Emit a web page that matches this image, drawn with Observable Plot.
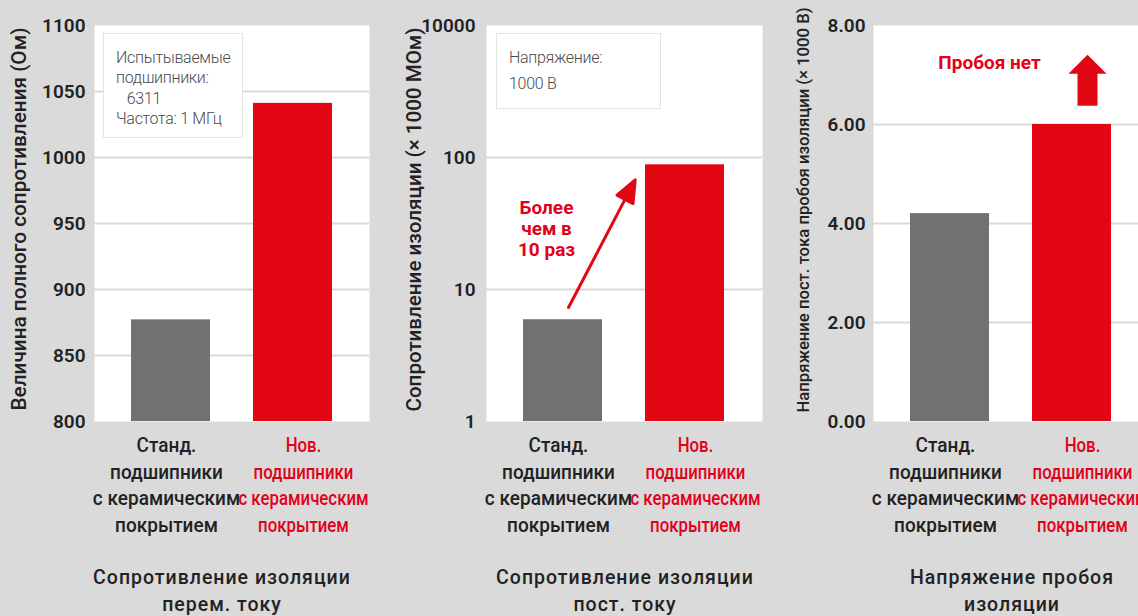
<!DOCTYPE html>
<html><head><meta charset="utf-8">
<script src="https://cdn.jsdelivr.net/npm/d3@7"></script>
<script src="https://cdn.jsdelivr.net/npm/@observablehq/plot@0.6"></script>
<style>
html,body{margin:0;padding:0;background:#dadada;}
#wrap{position:relative;width:1138px;height:616px;overflow:hidden;background:#dadada;font-family:Roboto,sans-serif;}
.panel{position:absolute;top:0;}
.note{position:absolute;background:#fff;border:1.5px solid #e3e3e3;box-sizing:border-box;color:#4a4a4a;font-weight:300;font-size:16px;letter-spacing:-0.3px;white-space:pre;}
.title{position:absolute;width:360px;text-align:center;font-size:19.5px;font-weight:500;letter-spacing:1px;line-height:27px;color:#222;white-space:pre;}
</style></head>
<body><div id="wrap"></div>
<script>
// ---- data ----
const categoryKeys = ["std", "new"];
const categoryLabels = [
  "Станд.\nподшипники\nс керамическим\nпокрытием",
  "Нов.\nподшипники\nс керамическим\nпокрытием"
];
const barColors = ["#717171", "#e30613"];
const labelColors = ["#222222", "#e2001a"];

const acImpedance = [877, 1041];       // Ом
const dcResistance = [5.9, 88];        // ×1000 МОм
const breakdownVoltage = [4.2, 6.0];   // ×1000 В

const acTicks = [800, 850, 900, 950, 1000, 1050, 1100];
const dcTicks = [1, 10, 100, 1000];
const dcTickLabels = ["1", "10", "100", "10000"];   // as printed on the original axis
const bvTicks = [0, 2, 4, 6, 8];

const yLabels = [
  "Величина полного сопротивления (Ом)",
  "Сопротивление изоляции (× 1000 МОм)",
  "Напряжение пост. тока пробоя изоляции (× 1000 В)"
];
const panelTitles = [
  "Сопротивление изоляции\nперем. току",
  "Сопротивление изоляции\nпост. току",
  "Напряжение пробоя\nизоляции"
];
const noteTexts = [
  "Испытываемые\nподшипники:\n   6311\nЧастота: 1 МГц",
  "Напряжение:\n1000 В"
];
// annotations (data coordinates)
const dcArrow = [{key: "std", value: 7.3}];
const dcNote = [{key: "std", value: 29, text: "Более\nчем в\n10 раз"}];
const bvArrow = [{key: "new", value: 6.38}];
const bvNote = [{key: "new", value: 7.25, text: "Пробоя нет"}];

const RED = "#e30613", RED_TEXT = "#e2001a";

function panel(o) {
  const data = categoryKeys.map((k, i) => ({key: k, label: categoryLabels[i], value: o.values[i], bar: barColors[i], ink: labelColors[i]}));
  const [d0, d1] = o.domain;
  const svg = Plot.plot({
    width: o.width, height: 616,
    marginTop: 25, marginBottom: 195, marginLeft: o.marginLeft, marginRight: 0,
    style: {background: "transparent", fontFamily: "Roboto, sans-serif", color: "#222", overflow: "visible"},
    x: {domain: categoryKeys, paddingInner: 0.352, paddingOuter: 0.303, axis: null},
    y: {type: o.type, domain: o.domain, axis: null},
    color: {type: "identity"},
    marks: [
      Plot.frame({fill: "white", stroke: "none"}),
      Plot.ruleY(o.ticks.filter(t => t > d0 && t < d1), {stroke: "#d9d9d9", strokeWidth: 2}),
      Plot.barY(data, {x: "key", y1: d0, y2: "value", fill: "bar"}),
      Plot.axisY({ticks: o.ticks, tickSize: 0, tickPadding: o.tickPadding, tickFormat: o.tickFormat, label: null, fontSize: 19, fontWeight: 600, fill: "#222"}),
      Plot.text(data, {x: "key", text: "label", frameAnchor: "bottom", dy: 62, lineAnchor: "middle", lineHeight: 1.335, fontSize: 20, fontWeight: 500, fontFamily: "Roboto Cond, Roboto, sans-serif", fill: "ink"}),
      Plot.text([o.yLabel], {frameAnchor: "left", rotate: -90, dx: o.yLabelDx, dy: o.yLabelDy, textAnchor: "middle", fontSize: o.yLabelSize, fontWeight: 500, fontFamily: "Roboto YL, Roboto, sans-serif", fill: "#222"}),
      ...(o.extra || [])
    ]
  });
  // narrow the category labels (no condensed face installed) and nudge them as in the original
  const scales = [0.95, 0.84], offsets = [-4.5, 10.5];
  d3.select(svg).selectAll('g[font-family^="Roboto Cond"] text').each(function(d, i) {
    const x = +this.getAttribute("x") || 0;
    const t = this.getAttribute("transform") || "";
    this.setAttribute("transform", `${t} translate(${x + offsets[i]},0) scale(${scales[i]},1) translate(${-x},0)`);
  });
  d3.select(svg).selectAll('g[font-family^="Roboto YL"] text')
    .attr("textLength", o.yLabelLength).attr("lengthAdjust", "spacingAndGlyphs");
  return svg;
}

const thinArrow = {
  draw(ctx, l) {
    const hl = 22, hw = 9;
    ctx.moveTo(0, 0); ctx.lineTo(0, -l + hl);
    ctx.moveTo(-hw, -l + hl); ctx.lineTo(0, -l); ctx.lineTo(hw, -l + hl); ctx.closePath();
  }
};
const blockArrow = {
  draw(ctx, l) {
    const hh = 19, sw = 10, hw = 19;
    ctx.moveTo(-sw, 0); ctx.lineTo(-sw, -l + hh); ctx.lineTo(-hw, -l + hh); ctx.lineTo(0, -l);
    ctx.lineTo(hw, -l + hh); ctx.lineTo(sw, -l + hh); ctx.lineTo(sw, 0); ctx.closePath();
  }
};

const wrap = document.getElementById("wrap");
function place(svg, left) { svg.classList.add("panel"); svg.style.left = left + "px"; wrap.appendChild(svg); }

place(panel({
  width: 369, marginLeft: 94, type: "linear", domain: [800, 1100], ticks: acTicks, values: acImpedance,
  tickPadding: 9, tickFormat: d => String(d),
  yLabel: yLabels[0], yLabelDx: -75, yLabelDy: -4.5, yLabelSize: 20, yLabelLength: 383
}), 0);

place(panel({
  width: 393, marginLeft: 117, type: "log", domain: [1, 1000], ticks: dcTicks, values: dcResistance,
  tickPadding: 11, tickFormat: d => dcTickLabels[dcTicks.indexOf(d)],
  yLabel: yLabels[1], yLabelDx: -72, yLabelDy: -4, yLabelSize: 20, yLabelLength: 384,
  extra: [
    Plot.vector(dcArrow, {x: "key", y: "value", length: 144, rotate: 27.6, anchor: "start", dx: 5.5, shape: thinArrow, stroke: RED, fill: RED, strokeWidth: 3}),
    Plot.text(dcNote, {x: "key", y: "value", text: "text", dx: -16.5, lineAnchor: "middle", lineHeight: 1.1, fontSize: 19, fontWeight: 700, fill: RED_TEXT})
  ]
}), 369);

place(panel({
  width: 387, marginLeft: 111, type: "linear", domain: [0, 8], ticks: bvTicks, values: breakdownVoltage,
  tickPadding: 8, tickFormat: d => d.toFixed(2),
  yLabel: yLabels[2], yLabelDx: -70, yLabelDy: -13.5, yLabelSize: 17, yLabelLength: 405,
  extra: [
    Plot.vector(bvArrow, {x: "key", y: "value", length: 51, rotate: 0, anchor: "start", dx: 15.5, shape: blockArrow, stroke: "none", fill: RED}),
    Plot.text(bvNote, {x: "key", y: "value", text: "text", dx: -82.5, fontSize: 19, fontWeight: 700, fill: RED_TEXT})
  ]
}), 762);

// notes
const notes = [
  {left: 103, top: 33, width: 140, height: 105, lh: 20.5, pt: 13.5, text: noteTexts[0]},
  {left: 496, top: 33, width: 165, height: 76, lh: 26, pt: 10.5, text: noteTexts[1]}
];
for (const n of notes) {
  const d = document.createElement("div");
  d.className = "note";
  Object.assign(d.style, {left: n.left + "px", top: n.top + "px", width: n.width + "px", height: n.height + "px", lineHeight: n.lh + "px", paddingTop: n.pt + "px", paddingLeft: "12px"});
  d.textContent = n.text;
  wrap.appendChild(d);
}
// titles
const titleCenters = [222, 625, 1012];
panelTitles.forEach((t, i) => {
  const d = document.createElement("div");
  d.className = "title";
  d.style.left = (titleCenters[i] - 180) + "px";
  d.style.top = "564px";
  d.textContent = t;
  wrap.appendChild(d);
});
</script>
</body></html>
